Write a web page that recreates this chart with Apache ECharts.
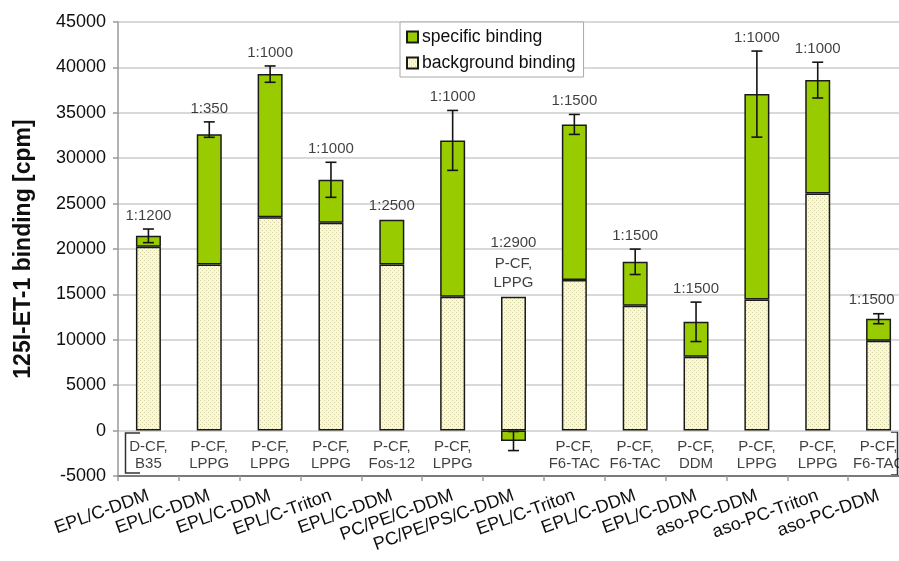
<!DOCTYPE html>
<html>
<head>
<meta charset="utf-8">
<script src="https://cdn.jsdelivr.net/npm/echarts@6/dist/echarts.min.js"></script>
<style>
  html, body { margin: 0; padding: 0; background: #ffffff; }
  #chart { width: 899px; height: 561px; }
</style>
</head>
<body>
<div id="chart"></div>
<script>
// Membrane preparation / detergent of each sample
const categories = ['EPL/C-DDM', 'EPL/C-DDM', 'EPL/C-DDM', 'EPL/C-Triton', 'EPL/C-DDM', 'PC/PE/C-DDM',
  'PC/PE/PS/C-DDM', 'EPL/C-Triton', 'EPL/C-DDM', 'EPL/C-DDM', 'aso-PC-DDM', 'aso-PC-Triton', 'aso-PC-DDM'];
// 125I-ET-1 binding, cpm
const backgroundBinding = [20240, 18300, 23510, 22890, 18300, 14730, 14730, 16580, 13750, 8130, 14450, 26120, 9890];
const specificBinding = [1210, 14350, 15750, 4730, 4920, 17230, -1150, 17140, 4840, 3850, 22610, 12480, 2430];
const errorPlus = [750, 1350, 900, 1930, 0, 3300, 1050, 1100, 1400, 2170, 4740, 1970, 550];
const errorMinus = [750, 350, 900, 1930, 0, 3300, 1050, 1100, 1400, 2170, 4740, 1970, 550];
// Receptor dilution and expression construct / detergent annotations
const dilutions = ['1:1200', '1:350', '1:1000', '1:1000', '1:2500', '1:1000', '1:2900', '1:1500', '1:1500',
  '1:1500', '1:1000', '1:1000', '1:1500'];
const constructs = ['D-CF,\nB35', 'P-CF,\nLPPG', 'P-CF,\nLPPG', 'P-CF,\nLPPG', 'P-CF,\nFos-12', 'P-CF,\nLPPG',
  'P-CF,\nLPPG', 'P-CF,\nF6-TAC', 'P-CF,\nF6-TAC', 'P-CF,\nDDM', 'P-CF,\nLPPG', 'P-CF,\nLPPG', 'P-CF,\nF6-TAC'];
const yAxisTitle = '125I-ET-1 binding [cpm]';
const seriesNames = ['specific binding', 'background binding'];

const TEXT = '#0f0f0f';
const FONT = 'Liberation Sans, Arial, sans-serif';

// dotted cream fill used for the background binding
function dottedPattern() {
  const c = document.createElement('canvas');
  c.width = 4; c.height = 4;
  const g = c.getContext('2d');
  g.fillStyle = '#fbf9d2';
  g.fillRect(0, 0, 4, 4);
  g.fillStyle = '#d3d0a8';
  g.fillRect(0, 0, 1, 1);
  g.fillRect(2, 2, 1, 1);
  return { image: c, repeat: 'repeat' };
}

// end of the stack carrying the specific part (negative values stack downward from 0)
const stackEnd = specificBinding.map((s, i) => s >= 0 ? backgroundBinding[i] + s : s);
const errorData = stackEnd.map((v, i) => [i, v, v - errorMinus[i], v + errorPlus[i]]);

// anchor for the dilution label: above the highest mark of each column
const labelAnchor = stackEnd.map((v, i) => {
  const posTop = backgroundBinding[i] + Math.max(specificBinding[i], 0);
  const errTop = specificBinding[i] >= 0 ? v + errorPlus[i] : posTop;
  return Math.max(posTop, errTop);
});
// columns whose specific part dips below zero carry their construct label on top
const lastIndex = categories.length - 1;
const topData = labelAnchor.map((v, i) => {
  const label = specificBinding[i] < 0
    ? { formatter: '{d|' + dilutions[i] + '}\n' + constructs[i].split('\n').map(t => '{c|' + t + '}').join('\n') }
    : { formatter: dilutions[i] };
  // keep the right-most label inside the canvas
  if (i === lastIndex) label.offset = [-7, 0];
  return { value: [i, v], label: label };
});
const bottomData = [];
constructs.forEach((t, i) => { if (specificBinding[i] >= 0) bottomData.push({ value: [i, 0], label: { formatter: t } }); });

const chart = echarts.init(document.getElementById('chart'), null, { renderer: 'canvas' });
const barBorder = { borderColor: '#1a1a1a', borderWidth: 1.5 };

chart.setOption({
  animation: false,
  backgroundColor: '#ffffff',
  textStyle: { fontFamily: FONT },
  // the plotting area runs a little past the right edge of the canvas
  grid: { left: 118, width: 791, top: 22, bottom: 85, containLabel: false, outerBoundsMode: 'none' },
  legend: {
    orient: 'vertical',
    left: 400, top: 22,
    padding: [6, 8, 5, 6],
    itemGap: 8,
    itemWidth: 11, itemHeight: 11,
    icon: 'rect',
    backgroundColor: '#ffffff',
    borderColor: '#a8a8a8', borderWidth: 1,
    textStyle: { fontSize: 17.6, color: TEXT, fontFamily: FONT, padding: [0, 0, 0, -1] },
    data: seriesNames
  },
  xAxis: {
    type: 'category',
    data: categories,
    position: 'bottom',
    axisLine: { onZero: false, lineStyle: { color: '#7a7a7a', width: 2 } },
    axisTick: { show: true, length: 5, lineStyle: { color: '#9a9a9a', width: 1.5 } },
    axisLabel: { rotate: 20, fontSize: 18, color: TEXT, margin: 19, interval: 0, fontFamily: FONT },
    splitLine: { show: false }
  },
  yAxis: {
    type: 'value',
    min: -5000, max: 45000, interval: 5000,
    name: yAxisTitle,
    nameLocation: 'middle',
    nameGap: 83,
    nameTextStyle: { fontSize: 23, fontWeight: 'bold', color: TEXT, fontFamily: FONT },
    axisLine: { show: true, lineStyle: { color: '#9a9a9a', width: 1.5 } },
    axisTick: { show: true, length: 5, lineStyle: { color: '#9a9a9a', width: 1.5 } },
    axisLabel: { fontSize: 18, color: TEXT, margin: 12, fontFamily: FONT, formatter: v => String(v) },
    splitLine: { show: true, lineStyle: { color: '#cdcdcd', width: 1.5 } }
  },
  series: [
    {
      name: seriesNames[1], type: 'bar', stack: 'binding', barWidth: 25,
      itemStyle: Object.assign({ color: dottedPattern() }, barBorder),
      data: backgroundBinding, z: 2
    },
    {
      name: seriesNames[0], type: 'bar', stack: 'binding', barWidth: 25,
      itemStyle: Object.assign({ color: '#99cc00' }, barBorder),
      data: specificBinding, z: 2
    },
    {
      name: 'error', type: 'custom', z: 5,
      data: errorData,
      encode: { x: 0, y: [1, 2, 3] },
      renderItem: function (params, api) {
        const x = api.value(0), lo = api.value(2), hi = api.value(3);
        if (hi === lo) return null;
        const pHi = api.coord([x, hi]);
        const pLo = api.coord([x, lo]);
        const half = 5.5;
        const st = { stroke: '#141414', lineWidth: 1.6 };
        return {
          type: 'group',
          children: [
            { type: 'line', shape: { x1: pHi[0], y1: pHi[1], x2: pLo[0], y2: pLo[1] }, style: st },
            { type: 'line', shape: { x1: pHi[0] - half, y1: pHi[1], x2: pHi[0] + half, y2: pHi[1] }, style: st },
            { type: 'line', shape: { x1: pLo[0] - half, y1: pLo[1], x2: pLo[0] + half, y2: pLo[1] }, style: st }
          ]
        };
      }
    },
    {
      name: 'dilution', type: 'scatter', symbolSize: 0, z: 6, silent: true,
      data: topData,
      label: {
        show: true, position: 'top', distance: 4,
        fontSize: 15, color: TEXT, fontFamily: FONT, lineHeight: 19, align: 'center',
        rich: {
          d: { fontSize: 15, color: TEXT, fontFamily: FONT, lineHeight: 24, align: 'center' },
          c: { fontSize: 15, color: TEXT, fontFamily: FONT, lineHeight: 19, align: 'center' }
        }
      }
    },
    {
      name: 'construct', type: 'scatter', symbolSize: 0, z: 6, silent: true,
      data: bottomData,
      label: {
        show: true, position: 'bottom', distance: 8,
        fontSize: 15, color: TEXT, fontFamily: FONT, lineHeight: 17, align: 'center'
      }
    }
  ],
  graphic: [
    { type: 'polyline', silent: true, shape: { points: [[140, 433], [125.5, 433], [125.5, 473], [140, 473]] },
      style: { stroke: '#333', lineWidth: 1.5, fill: null } },
    { type: 'polyline', silent: true, shape: { points: [[891, 432], [897.5, 432], [897.5, 475], [891, 475]] },
      style: { stroke: '#333', lineWidth: 1.5, fill: null } }
  ]
});
</script>
</body>
</html>
